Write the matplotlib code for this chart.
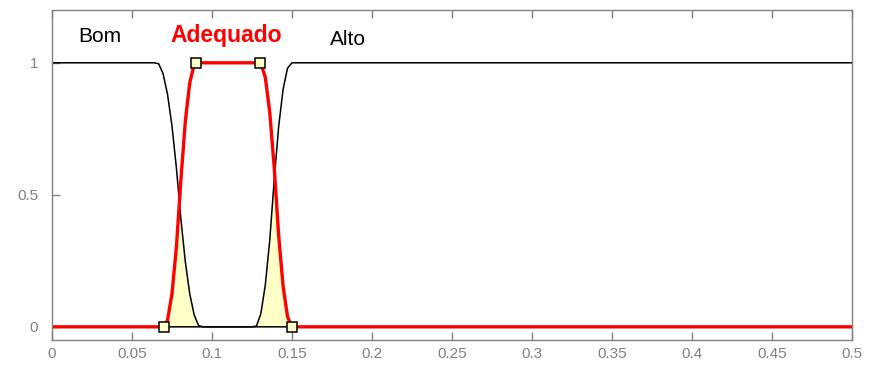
import numpy as np
import matplotlib
matplotlib.use("Agg")
import matplotlib.pyplot as plt

plt.rcParams['font.family'] = ['Liberation Sans', 'DejaVu Sans']

# membership function parameters
bom_params = [0.0655, 0.093]              # zmf
adequado_params = [0.07, 0.09, 0.13, 0.15]  # pimf
alto_params = [0.127, 0.1495]             # smf
labels = ["Bom", "Adequado", "Alto"]
label_x = [0.030, 0.1088, 0.185]
label_y = [1.10, 1.105, 1.09]
xticks = [0, 0.05, 0.1, 0.15, 0.2, 0.25, 0.3, 0.35, 0.4, 0.45, 0.5]
yticks = [0, 0.5, 1]


def smf(x, a, b):
    y = np.zeros_like(x)
    m = (a + b) / 2
    y[x >= b] = 1
    i1 = (x > a) & (x <= m)
    y[i1] = 2 * ((x[i1] - a) / (b - a)) ** 2
    i2 = (x > m) & (x < b)
    y[i2] = 1 - 2 * ((x[i2] - b) / (b - a)) ** 2
    return y


def zmf(x, a, b):
    return 1 - smf(x, a, b)


def pimf(x, a, b, c, d):
    return np.minimum(smf(x, a, b), zmf(x, c, d))


x = np.linspace(0, 0.5, 181)
y_bom = zmf(x, *bom_params)
y_ade = pimf(x, *adequado_params)
y_alto = smf(x, *alto_params)

fig = plt.figure(figsize=(8.69, 3.70), dpi=100)
ax = fig.add_axes([0.0598, 0.081, 0.9206, 0.892])

fill_col = '#ffffc8'
ax.fill_between(x, 0, np.minimum(y_ade, y_bom), color=fill_col, lw=0)
ax.fill_between(x, 0, np.minimum(y_ade, y_alto), color=fill_col, lw=0)

ax.plot(x, y_bom, color='black', lw=1.1)
ax.plot(x, y_alto, color='black', lw=1.1)
ax.plot(x, y_ade, color='#ff0000', lw=2.4)

pts_x = adequado_params
pts_y = [0, 1, 1, 0]
ax.plot(pts_x, pts_y, linestyle='none', marker='s', markersize=7,
        markerfacecolor=fill_col, markeredgecolor='black', markeredgewidth=1.1,
        clip_on=False, zorder=5)

colors = ['black', '#ff0000', 'black']
weights = ['normal', 'bold', 'normal']
sizes = [15, 16.5, 15]
for t, lx, ly, c, w, s in zip(labels, label_x, label_y, colors, weights, sizes):
    ax.text(lx, ly, t, color=c, fontweight=w, fontsize=s,
            ha='center', va='center')

ax.set_xlim(0, 0.5)
ax.set_ylim(-0.05, 1.2)
ax.set_xticks(xticks)
ax.set_xticklabels([('%g' % v) for v in xticks])
ax.set_yticks(yticks)
ax.set_yticklabels([('%g' % v) for v in yticks])
ax.tick_params(direction='in', top=True, right=False, length=6,
               colors='#808080', labelcolor='#808080', labelsize=11, width=1)
ax.tick_params(axis='x', pad=5)
ax.tick_params(axis='y', pad=10)
for s in ax.spines.values():
    s.set_color('#808080')
    s.set_linewidth(1)

fig.savefig('out.png', dpi=100)
